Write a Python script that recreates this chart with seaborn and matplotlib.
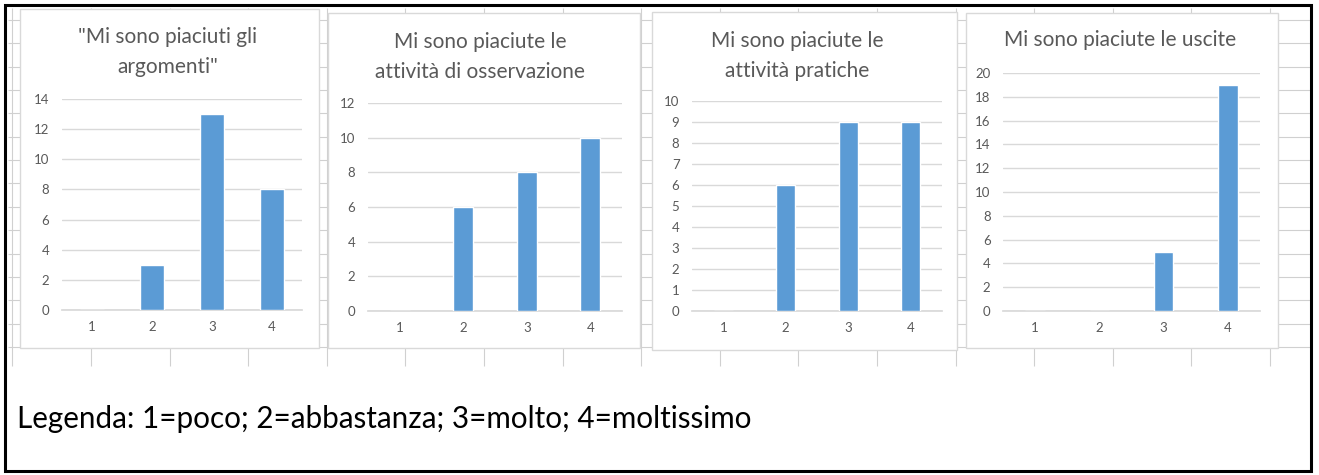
import numpy as np
import pandas as pd
import seaborn as sns
import matplotlib.pyplot as plt
from matplotlib.patches import Rectangle

sns.set_theme(style="white")
plt.rcParams['font.family'] = ['Lato', 'DejaVu Sans']

# dati dei quattro grafici
categorie = ["1", "2", "3", "4"]
titoli = ['"Mi sono piaciuti gli\nargomenti"',
          "Mi sono piaciute le\nattività di osservazione",
          "Mi sono piaciute le\nattività pratiche",
          "Mi sono piaciute le uscite"]
argomenti = [0, 3, 13, 8]
osservazione = [0, 6, 8, 10]
pratiche = [0, 6, 9, 9]
uscite = [0, 0, 5, 19]
serie = [argomenti, osservazione, pratiche, uscite]
y_max = [14, 12, 10, 20]
y_step = [2, 2, 1, 2]
legenda = "Legenda: 1=poco; 2=abbastanza; 3=molto; 4=moltissimo"

W, H = 1319, 475
BLU = "#5B9BD5"
GRIGIO = "#595959"
LINEA = "#D9D9D9"

fig = plt.figure(figsize=(W / 100, H / 100), dpi=100)
fig.patch.set_facecolor("white")

# sfondo: foglio di calcolo (pixel)
bg = fig.add_axes([0, 0, 1, 1])
bg.set_xlim(0, W)
bg.set_ylim(H, 0)
bg.axis("off")
xs = 12.4 + 78.6 * np.arange(17)
ys = 20 + 23.35 * np.arange(15)
bg.vlines(xs, 8, 366, color="#D0D0D0", lw=0.8)
bg.hlines(ys[ys < 366], 8, 1310, color="#D0D0D0", lw=0.8)
bg.add_patch(Rectangle((5, 5), 1306, 466, fill=False, ec="black", lw=2.2, zorder=5))

# riquadri dei grafici: (x0, x1, y0, y1) del riquadro, area del grafico, titolo
riquadri = [(20, 319, 9, 348), (328, 640, 13, 348), (652, 957, 12, 350), (966, 1278, 13, 348)]
aree = [(62, 302, 310, 99), (368, 622, 311, 103), (692, 942, 311, 101), (1003, 1260, 311, 73)]
pos_titoli = [(168, 52), (480, 57), (797, 56), (1120, 40)]
larghezze = [0.4, 0.31, 0.3, 0.3]

for (x0, x1, y0, y1) in riquadri:
    bg.add_patch(Rectangle((x0, y0), x1 - x0, y1 - y0, fc="white", ec=LINEA, lw=1, zorder=2))

for i in range(4):
    ax0, ax1, yz, yt = aree[i]
    ax = fig.add_axes([ax0 / W, 1 - yz / H, (ax1 - ax0) / W, (yz - yt) / H])
    ax.patch.set_alpha(0)
    df = pd.DataFrame({"voto": categorie, "n": serie[i]})
    sns.barplot(data=df, x="voto", y="n", color=BLU, width=larghezze[i],
                saturation=1, ax=ax, zorder=3)
    ax.set_xlim(-0.5, 3.5)
    ax.set_ylim(0, y_max[i])
    ax.set_yticks(np.arange(0, y_max[i] + 1, y_step[i]))
    ax.yaxis.grid(True, color=LINEA, lw=1)
    ax.set_axisbelow(True)
    for s in ["top", "right", "left"]:
        ax.spines[s].set_visible(False)
    ax.spines["bottom"].set_color(LINEA)
    ax.tick_params(length=0, labelsize=9.5, labelcolor=GRIGIO)
    ax.tick_params(axis="x", pad=8)
    ax.tick_params(axis="y", pad=9)
    ax.set_xlabel("")
    ax.set_ylabel("")
    cx, cy = pos_titoli[i]
    fig.text(cx / W, 1 - cy / H, titoli[i], ha="center", va="center",
             fontsize=15, color=GRIGIO, linespacing=1.6)

fig.text(17 / W, 1 - 419 / H, legenda, ha="left", va="center", fontsize=21.3, color="black")

fig.savefig("out.png", dpi=100)
